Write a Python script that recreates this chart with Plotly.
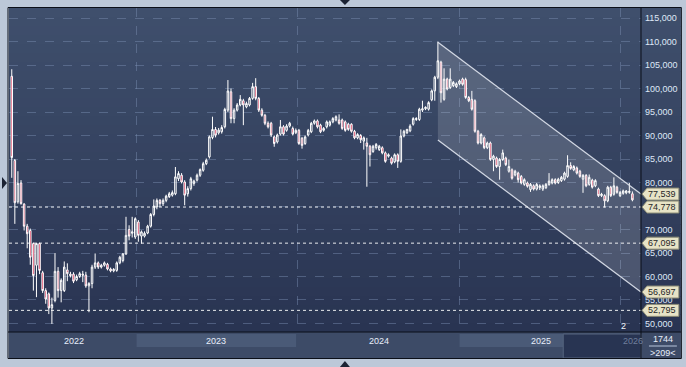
import plotly.graph_objects as go
import pandas as pd

# ---------------- data (prices in thousands) ----------------
start_date = "2022-03-24"   # first weekly candle
opens = [102.6, 84.7, 75.9, 79.9, 75.4, 70.7, 69.8, 67.0, 62.4, 67.0, 60.8, 57.0, 56.3, 53.3, 54.9, 61.1, 57.0, 57.0, 61.4, 60.5,
         60.5, 59.3, 60.0, 60.5, 60.3, 58.0, 58.5, 62.0, 62.9, 62.0, 62.4, 62.6, 61.6, 61.2, 61.3, 62.9, 63.4, 64.8, 70.0, 69.2,
         68.4, 71.6, 68.6, 68.6, 69.25, 70.7, 73.2, 74.8, 76.2, 75.5, 76.2, 77.0, 77.3, 77.6, 80.8, 81.55, 80.1, 77.6, 78.7, 79.8,
         80.5, 81.55, 82.6, 84.0, 85.45, 89.58, 91.28, 90.57, 90.8, 91.85, 95.4, 99.3, 93.6, 95.4, 96.5, 97.4, 96.1, 96.5, 97.9, 100.4,
         97.9, 95.4, 94.3, 92.6, 92.6, 89.7, 88.65, 90.3, 91.85, 91.1, 92.0, 91.5, 90.6, 91.1, 89.4, 88.3, 90.1, 90.8, 92.6, 93.1,
         92.2, 91.1, 91.85, 92.2, 92.9, 93.3, 93.3, 93.3, 92.9, 92.4, 92.4, 90.9, 89.5, 90.0, 88.8, 88.4, 87.7, 86.6, 87.4, 87.0,
         87.4, 86.3, 85.6, 85.2, 84.4, 85.9, 84.5, 89.9, 90.6, 91.0, 92.4, 93.4, 93.4, 95.4, 95.7, 95.6, 97.6, 99.5, 102.4, 105.6,
         97.7, 102.0, 100.2, 100.6, 100.4, 101.0, 102.0, 101.9, 98.1, 97.7, 97.4, 90.9, 88.4, 89.5, 87.4, 88.4, 84.9, 85.2, 83.4, 84.9,
         85.2, 82.4, 82.7, 81.6, 82.0, 81.3, 79.6, 79.9, 78.5, 79.3, 78.6, 78.9, 78.6, 78.9, 79.6, 79.9, 80.6, 80.0, 80.4, 80.7,
         81.3, 83.6, 82.7, 83.1, 82.4, 80.7, 81.5, 79.6, 80.5, 79.3, 78.6, 77.2, 77.2, 76.1, 79.0, 77.5, 79.0, 77.2, 77.7, 77.8,
         77.9, 77.6]
highs = [104.1, 85.0, 82.4, 80.5, 75.6, 71.2, 70.2, 67.2, 67.2, 67.2, 61.2, 57.5, 56.6, 55.5, 65.0, 62.0, 59.6, 63.2, 62.8, 61.0,
         60.9, 60.4, 61.0, 61.2, 61.0, 58.8, 62.5, 64.9, 63.2, 62.7, 63.2, 62.9, 61.9, 61.8, 63.2, 64.4, 65.0, 72.7, 70.9, 72.7,
         72.6, 72.0, 69.8, 69.6, 71.0, 73.5, 76.4, 76.6, 76.5, 76.6, 77.4, 78.0, 78.3, 83.3, 82.4, 82.0, 80.5, 79.2, 81.2, 80.6,
         81.9, 83.0, 84.4, 85.1, 90.0, 94.0, 91.8, 91.6, 92.2, 95.9, 101.8, 100.0, 95.8, 96.9, 98.6, 97.8, 97.2, 98.2, 101.2, 102.2,
         98.2, 95.8, 94.6, 93.0, 92.9, 90.0, 90.4, 93.3, 92.2, 92.4, 92.9, 91.9, 91.5, 91.4, 89.7, 90.0, 91.4, 92.9, 93.4, 93.4,
         92.5, 91.8, 93.2, 93.2, 93.9, 94.3, 94.5, 93.6, 93.2, 92.7, 92.6, 91.2, 90.5, 90.3, 89.8, 89.5, 88.0, 88.0, 88.4, 88.0,
         87.7, 86.6, 86.2, 85.5, 86.2, 86.2, 91.3, 91.2, 91.4, 92.4, 93.9, 93.9, 95.9, 97.4, 96.2, 97.3, 99.8, 102.7, 110.0, 105.9,
         104.3, 102.3, 104.3, 101.6, 101.3, 101.9, 102.3, 102.3, 98.4, 99.5, 97.7, 91.2, 90.5, 89.8, 88.7, 88.7, 85.9, 85.5, 85.2, 87.0,
         85.5, 84.9, 83.0, 82.7, 82.3, 81.6, 80.9, 80.2, 79.9, 79.6, 79.9, 79.6, 79.6, 79.9, 82.0, 80.9, 80.9, 81.0, 81.4, 82.3,
         85.8, 84.3, 83.7, 83.4, 82.7, 81.8, 81.8, 81.7, 80.8, 80.7, 78.9, 77.8, 77.5, 79.3, 79.3, 81.1, 79.3, 78.2, 78.5, 78.4,
         79.9, 78.1]
lows = [81.0, 71.2, 75.5, 75.3, 69.8, 66.0, 62.5, 57.0, 55.6, 60.5, 56.5, 54.2, 52.0, 49.9, 54.5, 55.5, 54.5, 56.7, 59.0, 59.8,
        58.6, 59.0, 59.7, 58.8, 57.6, 52.4, 57.5, 61.6, 61.6, 61.7, 62.1, 61.3, 60.9, 60.9, 61.0, 62.6, 63.0, 64.6, 67.7, 68.3,
        68.0, 67.4, 67.0, 68.3, 69.0, 70.4, 72.8, 74.3, 74.8, 75.0, 75.8, 76.7, 77.0, 77.3, 80.3, 79.8, 75.15, 77.0, 78.3, 79.3,
        80.2, 81.2, 82.3, 83.7, 85.1, 89.2, 89.6, 90.2, 90.4, 91.5, 95.0, 92.6, 92.6, 95.1, 96.2, 92.2, 95.8, 96.2, 97.6, 97.5,
        95.0, 94.0, 92.2, 91.5, 89.7, 87.6, 88.3, 90.0, 90.0, 90.8, 91.7, 90.0, 90.3, 88.0, 87.2, 88.0, 89.8, 90.5, 92.3, 91.5,
        90.5, 90.8, 91.5, 91.9, 92.6, 93.0, 92.3, 91.2, 90.8, 91.0, 90.6, 89.2, 89.2, 88.4, 87.0, 79.1, 83.4, 86.3, 87.0, 86.7,
        86.0, 84.2, 85.3, 83.8, 84.1, 83.1, 84.2, 89.6, 90.3, 90.7, 92.1, 93.1, 93.1, 95.0, 95.4, 95.3, 97.3, 97.4, 102.0, 97.0,
        97.4, 99.6, 99.9, 100.3, 100.1, 100.7, 100.6, 97.8, 97.1, 95.3, 90.6, 88.1, 88.1, 87.1, 87.1, 84.6, 82.4, 83.1, 80.6, 84.6,
        83.5, 82.1, 80.6, 81.3, 80.0, 79.6, 79.3, 78.9, 78.0, 78.3, 78.3, 78.4, 78.2, 78.6, 79.3, 79.6, 79.6, 79.7, 80.1, 80.4,
        81.0, 82.7, 82.4, 81.7, 81.0, 77.8, 79.0, 79.3, 78.7, 79.0, 76.9, 76.9, 74.7, 75.8, 76.9, 77.2, 77.6, 76.9, 77.4, 77.5,
        77.6, 76.0]
closes = [85.3, 75.7, 79.8, 75.5, 70.7, 69.1, 64.1, 60.2, 67.0, 61.3, 57.0, 55.2, 53.3, 54.0, 61.1, 57.0, 59.2, 62.0, 60.6, 60.2,
          59.0, 60.0, 60.6, 60.3, 58.0, 58.5, 62.0, 62.9, 62.0, 62.4, 62.9, 61.6, 61.2, 61.5, 62.9, 64.1, 64.8, 68.75, 68.6, 69.5,
          72.3, 68.75, 69.5, 69.2, 70.7, 73.2, 75.0, 76.2, 75.5, 76.2, 77.1, 77.6, 77.85, 81.2, 81.9, 80.1, 77.3, 78.7, 80.8, 80.3,
          81.55, 82.75, 84.0, 84.74, 89.72, 91.28, 90.07, 91.14, 91.71, 95.55, 99.46, 93.6, 95.4, 96.5, 97.7, 96.5, 96.8, 97.9, 100.4, 97.9,
          95.4, 94.3, 92.6, 91.85, 90.1, 88.3, 90.1, 91.85, 90.3, 92.0, 92.6, 90.3, 91.1, 88.3, 87.9, 89.7, 91.1, 92.6, 93.1, 91.85,
          90.8, 91.5, 92.9, 92.9, 93.6, 94.0, 92.6, 91.5, 91.1, 91.3, 90.9, 89.5, 90.2, 89.1, 89.5, 87.7, 85.9, 87.7, 88.1, 87.7,
          86.3, 84.5, 85.9, 84.1, 85.9, 84.5, 89.9, 90.9, 91.3, 92.0, 93.6, 93.6, 95.6, 95.7, 96.0, 97.0, 99.5, 102.4, 105.9, 99.1,
          102.0, 99.9, 102.0, 101.3, 101.0, 101.6, 100.9, 98.1, 97.4, 95.6, 90.9, 88.4, 90.2, 87.4, 88.4, 84.9, 85.6, 83.4, 84.9, 86.3,
          83.8, 83.4, 80.9, 82.4, 80.6, 79.9, 80.6, 79.2, 79.6, 78.6, 79.6, 79.3, 79.3, 79.6, 80.3, 80.6, 79.9, 80.7, 81.1, 82.0,
          83.6, 83.0, 83.4, 82.0, 81.3, 81.5, 79.3, 81.1, 79.0, 80.4, 77.2, 77.5, 76.1, 79.0, 77.2, 79.3, 77.9, 77.9, 78.2, 78.2,
          78.1, 76.3]

# descending channel (drawn from the 2024 peak to the right edge)
channel_start_index = 138
channel_end_date = "2026-02-17 11:00"
channel_upper = [109830, 77539]
channel_lower = [89040, 56697]

# horizontal marker lines and right-hand price tags
h_levels = [74778, 67095, 52795]
tag_levels = [77539, 74778, 67095, 56697, 52795]

y_ticks = [50000, 55000, 60000, 65000, 70000, 75000, 80000, 85000, 90000, 95000, 100000, 105000, 110000, 115000]
hidden_ticks = [75000]   # fully covered by the 74,778 tag in the original
year_bounds = ["2023-01-01", "2024-01-01", "2025-01-01", "2026-01-01"]
year_labels = ["2022", "2023", "2024", "2025", "2026"]
footer_top = "1744"
footer_bottom = ">209<"

# ---------------- figure ----------------
W, H = 686, 367
L, R, T, B = 9, 43, 8, 35
PW, PH = W - L - R, H - T - B
FONT = "Liberation Sans, Arial"


def xp(px):
    return (px - L) / PW


def yp(py):
    return (T + PH - py) / PH


dates = pd.date_range(start_date, periods=len(closes), freq="7D")
k = 1000.0
o = [v * k for v in opens]
h = [v * k for v in highs]
lo = [v * k for v in lows]
c = [v * k for v in closes]

fig = go.Figure()

ch_x0 = dates[channel_start_index]
fig.add_trace(go.Scatter(
    x=[ch_x0, channel_end_date, channel_end_date, ch_x0],
    y=[channel_upper[0], channel_upper[1], channel_lower[1], channel_lower[0]],
    fill="toself", fillcolor="rgba(255,255,255,0.15)", mode="lines",
    line=dict(width=0), hoverinfo="skip", showlegend=False))
for ys in (channel_upper, channel_lower):
    fig.add_trace(go.Scatter(x=[ch_x0, channel_end_date], y=ys, mode="lines",
                             line=dict(color="rgba(225,230,240,0.9)", width=1.3),
                             hoverinfo="skip", showlegend=False))

fig.add_trace(go.Candlestick(
    x=dates, open=o, high=h, low=lo, close=c,
    increasing=dict(line=dict(color="#ffffff", width=1), fillcolor="rgba(0,0,0,0)"),
    decreasing=dict(line=dict(color="#ffffff", width=1), fillcolor="#d4173f"),
    whiskerwidth=0, hoverinfo="skip", showlegend=False))

shapes = []
# gradient background for plot + right scale panel
top_rgb = (63, 79, 108)
bot_rgb = (41, 52, 82)
n = 36
for i in range(n):
    t = i / (n - 1)
    col = tuple(int(round(top_rgb[j] + (bot_rgb[j] - top_rgb[j]) * t)) for j in range(3))
    y0p = T + PH * i / n
    y1p = T + PH * (i + 1) / n + 0.5
    shapes.append(dict(type="rect", xref="paper", yref="paper", x0=xp(9), x1=xp(683),
                       y0=yp(y1p), y1=yp(y0p), fillcolor="rgb(%d,%d,%d)" % col,
                       line=dict(width=0), layer="below"))
# bottom band
shapes.append(dict(type="rect", xref="paper", yref="paper", x0=xp(9), x1=xp(683), y0=yp(358), y1=yp(332),
                   fillcolor="#3d4b67", line=dict(width=0), layer="below"))
shapes.append(dict(type="rect", xref="paper", yref="paper", x0=xp(137), x1=xp(297), y0=yp(347), y1=yp(334),
                   fillcolor="#4a5a77", line=dict(width=0), layer="below"))
shapes.append(dict(type="rect", xref="paper", yref="paper", x0=xp(461), x1=xp(565), y0=yp(347), y1=yp(334),
                   fillcolor="#4a5a77", line=dict(width=0), layer="below"))
shapes.append(dict(type="rect", xref="paper", yref="paper", x0=xp(565), x1=xp(643), y0=yp(358), y1=yp(334),
                   fillcolor="#283452", line=dict(color="#56657f", width=1), layer="below"))
# horizontal dotted levels
for lv in h_levels:
    shapes.append(dict(type="line", xref="paper", yref="y", x0=0, x1=1, y0=lv, y1=lv,
                       line=dict(color="rgba(255,255,255,0.9)", width=1, dash="dot"), layer="above"))
# frame & separators
shapes.append(dict(type="line", xref="paper", yref="paper", x0=xp(643), x1=xp(643), y0=yp(358), y1=yp(8),
                   line=dict(color="#0b0f18", width=1), layer="above"))
shapes.append(dict(type="line", xref="paper", yref="paper", x0=xp(8), x1=xp(683), y0=yp(332), y1=yp(332),
                   line=dict(color="#0b0f18", width=1), layer="above"))
shapes.append(dict(type="rect", xref="paper", yref="paper", x0=xp(8), x1=xp(683.5), y0=yp(358.5), y1=yp(7.5),
                   line=dict(color="#0b0f18", width=1), layer="above"))
shapes.append(dict(type="line", xref="paper", yref="paper", x0=xp(651), x1=xp(679), y0=yp(346), y1=yp(346),
                   line=dict(color="#b8c6dc", width=1), layer="above"))


# small UI triangles
def tri(pts, color):
    path = "M " + " L ".join("%f,%f" % (xp(a), yp(b)) for a, b in pts) + " Z"
    return dict(type="path", xref="paper", yref="paper", path=path, fillcolor=color,
                line=dict(width=0), layer="above")


shapes.append(tri([(341, 0), (351, 0), (346, 5)], "#1b2233"))
shapes.append(tri([(341, 367), (351, 367), (346, 361)], "#1b2233"))
shapes.append(tri([(2, 177), (2, 189), (7, 183)], "#1b2233"))

# price tags on the right scale
mpp = (117130 - 48190) / PH   # value per pixel
annotations = []
for lv in tag_levels:
    hh = 6.0 * mpp
    path = "M %f,%f L %f,%f L %f,%f L %f,%f L %f,%f Z" % (
        xp(644), lv, xp(649), lv + hh, xp(681), lv + hh, xp(681), lv - hh, xp(649), lv - hh)
    shapes.append(dict(type="path", xref="paper", yref="y", path=path, fillcolor="#e7e3c6",
                       line=dict(color="#8a8a74", width=1), layer="above"))
    annotations.append(dict(xref="paper", yref="y", x=xp(664.5), y=lv, text="{:,}".format(lv),
                            showarrow=False, xanchor="center", yanchor="middle",
                            font=dict(family=FONT, size=9, color="#262626")))

# year labels in bottom band
year_px = [74, 217, 380, 543]
for lab, px in zip(year_labels[:4], year_px):
    annotations.append(dict(xref="paper", yref="paper", x=xp(px), y=yp(341), text=lab, showarrow=False,
                            xanchor="center", yanchor="middle",
                            font=dict(family=FONT, size=9, color="#e8eefa")))
annotations.append(dict(xref="paper", yref="paper", x=xp(623), y=yp(341), text=year_labels[4], showarrow=False,
                        xanchor="left", yanchor="middle",
                        font=dict(family=FONT, size=9, color="#6f7f9c")))
annotations.append(dict(xref="paper", yref="paper", x=xp(625), y=yp(326), text="2", showarrow=False,
                        xanchor="center", yanchor="middle",
                        font=dict(family=FONT, size=9, color="#f0f4fa")))
annotations.append(dict(xref="paper", yref="paper", x=xp(665), y=yp(339), text=footer_top, showarrow=False,
                        xanchor="center", yanchor="middle",
                        font=dict(family=FONT, size=9, color="#e8eefa")))
annotations.append(dict(xref="paper", yref="paper", x=xp(665), y=yp(353), text=footer_bottom, showarrow=False,
                        xanchor="center", yanchor="middle",
                        font=dict(family=FONT, size=9, color="#e8eefa")))

fig.update_layout(
    width=W, height=H, autosize=False, margin=dict(l=L, r=R, t=T, b=B),
    paper_bgcolor="#bcc8d8", plot_bgcolor="rgba(0,0,0,0)",
    shapes=shapes, annotations=annotations, showlegend=False,
    xaxis=dict(type="date", range=["2022-03-17 18:00", channel_end_date], rangeslider=dict(visible=False),
               tickvals=year_bounds, showticklabels=False, ticks="", showgrid=True,
               gridcolor="rgba(125,145,180,0.45)", griddash="dash", gridwidth=1,
               zeroline=False, showline=False, fixedrange=True),
    yaxis=dict(side="right", range=[48190, 117130], tickvals=y_ticks,
               ticktext=["" if v in hidden_ticks else "{:,}".format(v) for v in y_ticks],
               ticks="", ticklabelstandoff=3,
               tickfont=dict(family=FONT, size=9, color="#dfe8f7"),
               showgrid=True, gridcolor="rgba(125,145,180,0.45)", griddash="dash", gridwidth=1,
               zeroline=False, showline=False, fixedrange=True),
)

fig.write_html("out.html",
               config={"displayModeBar": False, "staticPlot": True, "responsive": False},
               post_script="document.documentElement.style.overflow='hidden';"
                           "document.body.style.margin='0';document.body.style.padding='0';"
                           "document.body.style.overflow='hidden';"
                           "document.body.style.background='#bcc8d8';")
